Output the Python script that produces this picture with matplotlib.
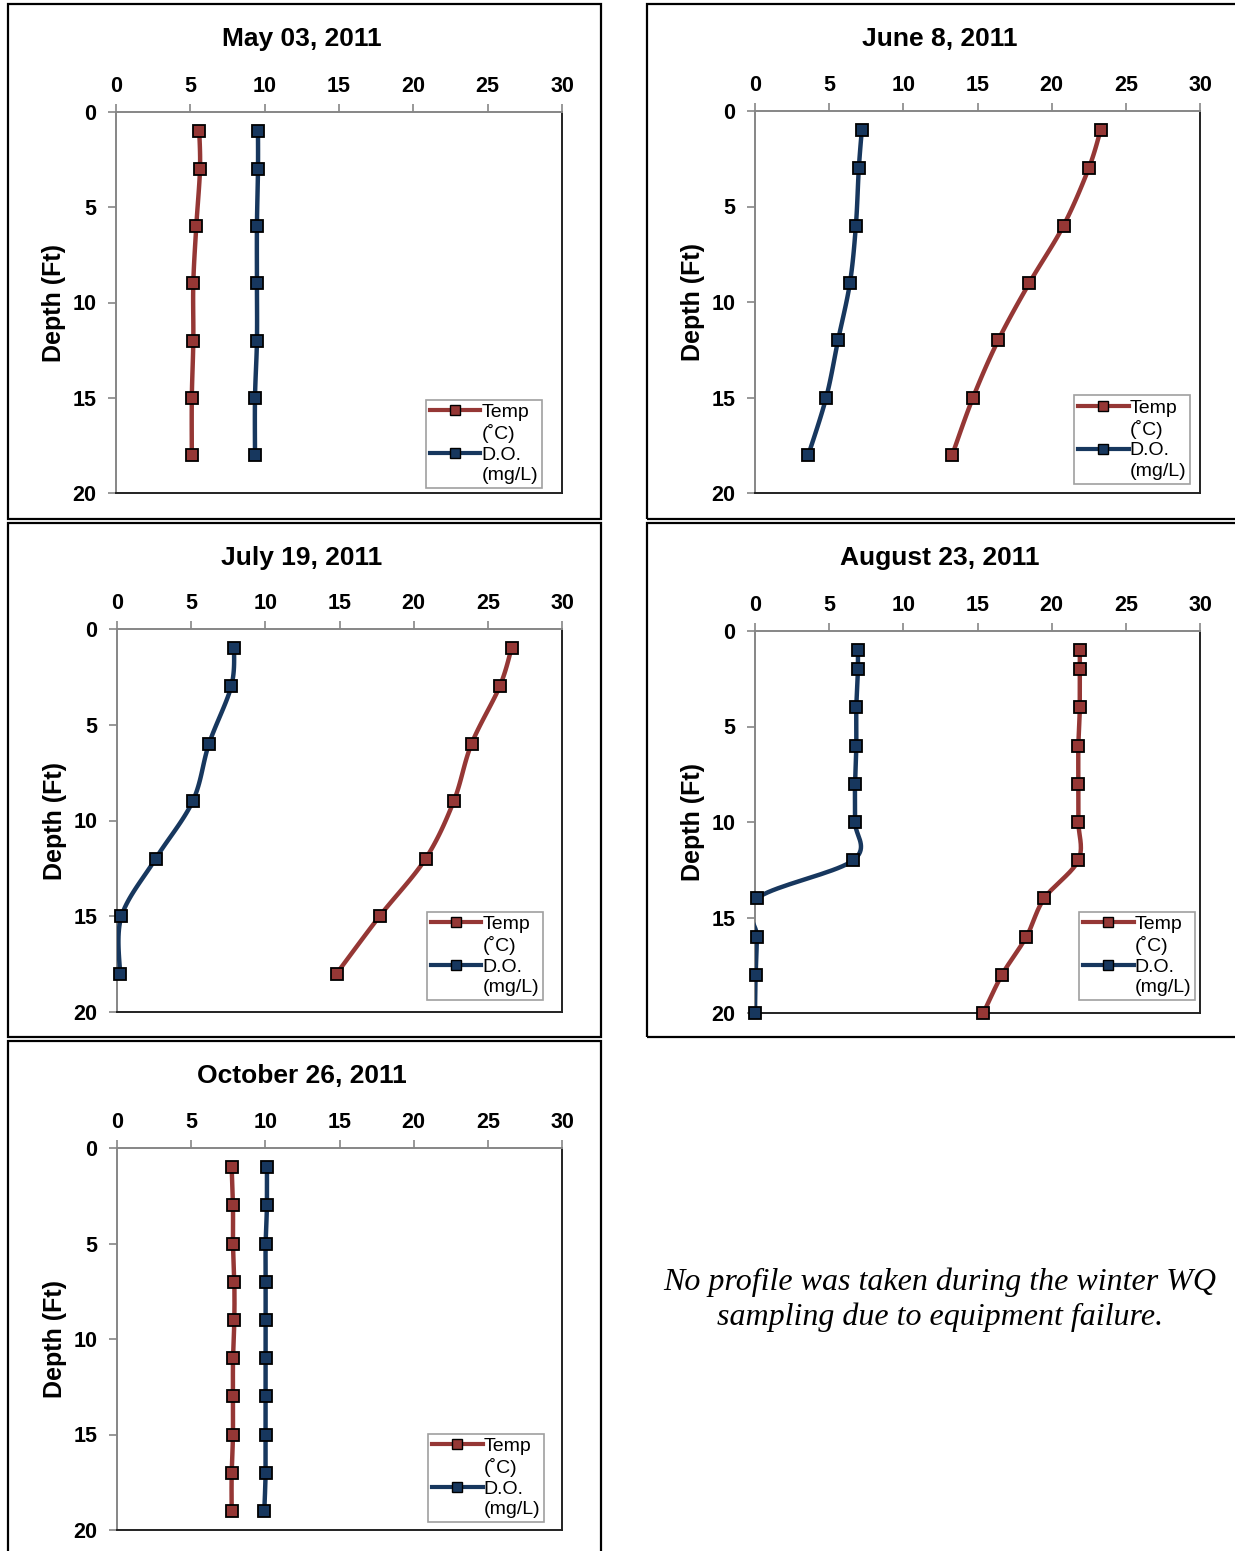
import numpy as np
import matplotlib
matplotlib.use("Agg")
import matplotlib.pyplot as plt
from matplotlib.lines import Line2D
from matplotlib.patches import Rectangle

plt.rcParams['font.family'] = ['Liberation Sans', 'DejaVu Sans']

W, H = 1235, 1551

# data (depth in ft, temp in C, D.O. in mg/L)
titles = ["May 03, 2011", "June 8, 2011", "July 19, 2011", "August 23, 2011", "October 26, 2011"]

may_depth = [1, 3, 6, 9, 12, 15, 18]
may_temp = [5.6, 5.65, 5.4, 5.2, 5.2, 5.1, 5.1]
may_do = [9.55, 9.55, 9.48, 9.48, 9.48, 9.35, 9.35]

jun_depth = [1, 3, 6, 9, 12, 15, 18]
jun_temp = [23.3, 22.5, 20.8, 18.5, 16.4, 14.7, 13.3]
jun_do = [7.2, 7.0, 6.8, 6.4, 5.6, 4.8, 3.6]

jul_depth = [1, 3, 6, 9, 12, 15, 18]
jul_temp = [26.6, 25.8, 23.9, 22.7, 20.8, 17.7, 14.8]
jul_do = [7.9, 7.7, 6.2, 5.1, 2.6, 0.3, 0.2]

aug_depth = [1, 2, 4, 6, 8, 10, 12, 14, 16, 18, 20]
aug_temp = [21.9, 21.9, 21.9, 21.8, 21.8, 21.8, 21.8, 19.5, 18.3, 16.65, 15.4]
aug_do = [6.94, 6.94, 6.83, 6.83, 6.74, 6.74, 6.63, 0.13, 0.13, 0.04, 0.0]

oct_depth = [1, 3, 5, 7, 9, 11, 13, 15, 17, 19]
oct_temp = [7.73, 7.82, 7.82, 7.91, 7.91, 7.82, 7.82, 7.82, 7.73, 7.73]
oct_do = [10.11, 10.11, 10.02, 10.02, 10.02, 10.02, 10.02, 10.02, 10.02, 9.93]

x_ticks = [0, 5, 10, 15, 20, 25, 30]
y_ticks = [0, 5, 10, 15, 20]

TEMP_COLOR = "#953735"
DO_COLOR = "#17375E"
GREY = "#868686"


def smooth(xs, ys, n=20):
    # excel style smoothed line (catmull-rom), done in roughly screen-scaled units
    sx, sy = 445 / 30.0, 382 / 20.0
    p = np.column_stack([np.asarray(xs, float) * sx, np.asarray(ys, float) * sy])
    p = np.vstack([p[0], p, p[-1]])
    out = []
    t = np.linspace(0, 1, n)[:, None]
    for i in range(1, len(p) - 2):
        p0, p1, p2, p3 = p[i - 1], p[i], p[i + 1], p[i + 2]
        c1 = p1 + (p2 - p0) / 6.0
        c2 = p2 - (p3 - p1) / 6.0
        seg = ((1 - t) ** 3) * p1 + 3 * ((1 - t) ** 2) * t * c1 + 3 * (1 - t) * t ** 2 * c2 + t ** 3 * p2
        out.append(seg if i == 1 else seg[1:])
    out = np.vstack(out)
    return out[:, 0] / sx, out[:, 1] / sy


def px_axes(fig, x0, y0, x1, y1):
    return fig.add_axes([x0 / W, 1 - y1 / H, (x1 - x0) / W, (y1 - y0) / H])


def draw_panel(fig, box, axbox, title, depth, temp, do, leg_anchor):
    bx0, by0, bx1, by1 = box
    fig.patches.append(Rectangle((bx0 / W, 1 - by1 / H), (bx1 - bx0) / W, (by1 - by0) / H,
                                 transform=fig.transFigure, fill=False, edgecolor="black",
                                 linewidth=1.6, figure=fig))
    cx = (bx0 + bx1) / 2 - 3 if bx1 <= W else (bx0 + 1233) / 2
    fig.text(cx / W, 1 - (by0 + 35) / H, title, ha="center", va="center",
             fontsize=19, fontweight="bold")

    ax = px_axes(fig, *axbox)
    for x, y, c in [(temp, depth, TEMP_COLOR), (do, depth, DO_COLOR)]:
        sxs, sys_ = smooth(x, y)
        ax.plot(sxs, sys_, color=c, linewidth=3.2, solid_capstyle="round", zorder=3)
        ax.plot(x, y, linestyle="none", marker="s", markersize=8.5, markerfacecolor=c,
                markeredgecolor="black", markeredgewidth=1.3, clip_on=False, zorder=4)

    ax.set_xlim(0, 30)
    ax.set_ylim(20, 0)
    ax.set_xticks(x_ticks)
    ax.set_yticks(y_ticks)
    ax.xaxis.tick_top()
    ax.tick_params(axis="both", direction="out", length=6, width=1.2, color=GREY,
                   labelsize=15.5)
    ax.tick_params(axis="x", pad=5)
    ax.tick_params(axis="y", pad=8)
    for lab in ax.get_xticklabels() + ax.get_yticklabels():
        lab.set_fontweight("bold")
    ax.spines["top"].set_color(GREY)
    ax.spines["left"].set_color(GREY)
    ax.spines["right"].set_color("#222222")
    ax.spines["bottom"].set_color("#222222")
    for s in ax.spines.values():
        s.set_linewidth(1.4)
    ax.set_ylabel("Depth (Ft)", fontsize=18, fontweight="bold", labelpad=5)

    handles = [
        Line2D([], [], color=TEMP_COLOR, linewidth=3, marker="s", markersize=7,
               markerfacecolor=TEMP_COLOR, markeredgecolor="black", markeredgewidth=1),
        Line2D([], [], color="none"),
        Line2D([], [], color=DO_COLOR, linewidth=3, marker="s", markersize=7,
               markerfacecolor=DO_COLOR, markeredgecolor="black", markeredgewidth=1),
        Line2D([], [], color="none"),
    ]
    labels = ["Temp", "(\u02daC)", "D.O.", "(mg/L)"]
    leg = ax.legend(handles, labels, loc="lower right", bbox_to_anchor=leg_anchor,
                    borderaxespad=0, fancybox=False, edgecolor="#A0A0A0", framealpha=1,
                    fontsize=14, handlelength=2.6, handletextpad=0.05, labelspacing=0.15,
                    borderpad=0.2)
    leg.get_frame().set_linewidth(1.2)
    return ax


fig = plt.figure(figsize=(W / 100, H / 100), dpi=100)

draw_panel(fig, (8, 4, 601, 519), (116, 112, 562, 493), titles[0],
           may_depth, may_temp, may_do, (0.955, 0.013))
draw_panel(fig, (647, 4, 1240, 519), (755, 111, 1200, 493), titles[1],
           jun_depth, jun_temp, jun_do, (0.978, 0.024))
draw_panel(fig, (8, 523, 601, 1037), (117, 629, 562, 1012), titles[2],
           jul_depth, jul_temp, jul_do, (0.957, 0.031))
draw_panel(fig, (647, 523, 1240, 1037), (755, 631, 1200, 1013), titles[3],
           aug_depth, aug_temp, aug_do, (0.989, 0.034))
draw_panel(fig, (8, 1041, 601, 1556), (117, 1148, 562, 1530), titles[4],
           oct_depth, oct_temp, oct_do, (0.96, 0.021))

fig.text(940 / W, 1 - 1300 / H,
         "No profile was taken during the winter WQ\nsampling due to equipment failure.",
         ha="center", va="center", fontsize=23, fontstyle="italic",
         family=["Liberation Serif", "DejaVu Serif"], linespacing=1.25)

fig.savefig("out.png", dpi=100)
